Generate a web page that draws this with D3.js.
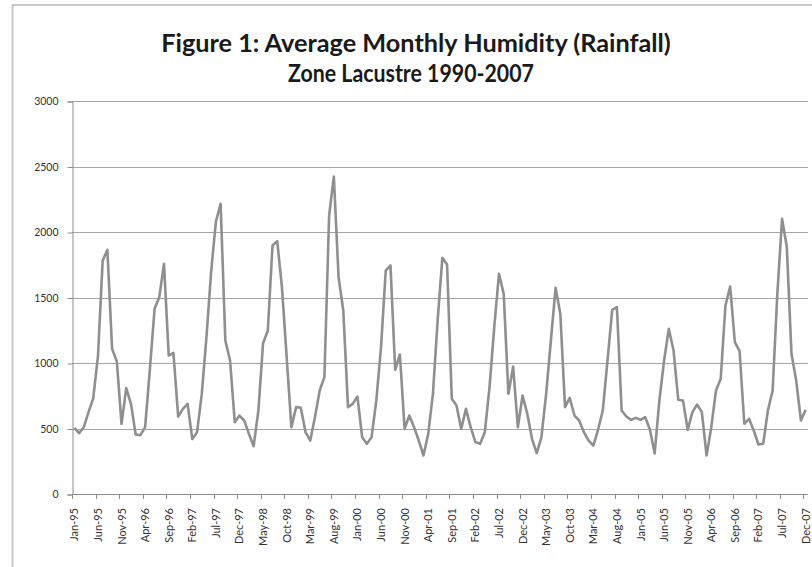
<!DOCTYPE html>
<html>
<head>
<meta charset="utf-8">
<script src="https://cdn.jsdelivr.net/npm/d3@7"></script>
<style>
  html, body { margin: 0; padding: 0; background: #fff; }
  svg { display: block; }
</style>
</head>
<body>
<svg id="chart" width="812" height="567"></svg>
<script>
const titleLines = ["Figure 1: Average Monthly Humidity (Rainfall)", "Zone Lacustre 1990-2007"];

const monthNames = ["Jan","Feb","Mar","Apr","May","Jun","Jul","Aug","Sep","Oct","Nov","Dec"];
const years = ["95","96","97","98","99","00","01","02","03","04","05","06","07"];
const categories = years.flatMap(y => monthNames.map(m => m + "-" + y));

const tickLabels = ["Jan-95","Jun-95","Nov-95","Apr-96","Sep-96","Feb-97","Jul-97","Dec-97",
  "May-98","Oct-98","Mar-99","Aug-99","Jan-00","Jun-00","Nov-00","Apr-01","Sep-01","Feb-02",
  "Jul-02","Dec-02","May-03","Oct-03","Mar-04","Aug-04","Jan-05","Jun-05","Nov-05","Apr-06",
  "Sep-06","Feb-07","Jul-07","Dec-07"];

const yTicks = [0, 500, 1000, 1500, 2000, 2500, 3000];

const rainfall = [
  505, 465, 510, 625, 730, 1050, 1783, 1864, 1108, 1012, 536, 808,
  688, 454, 449, 510, 950, 1414, 1503, 1757, 1057, 1078, 592, 650,
  688, 419, 472, 760, 1200, 1700, 2080, 2215, 1172, 1019, 548, 599,
  561, 459, 365, 637, 1151, 1248, 1897, 1930, 1579, 1045, 510, 663,
  658, 472, 408, 587, 790, 892, 2126, 2424, 1655, 1401, 663, 688,
  744, 434, 383, 434, 714, 1121, 1706, 1745, 948, 1065, 497, 599,
  510, 408, 294, 459, 765, 1325, 1803, 1752, 727, 676, 497, 650,
  510, 396, 383, 472, 816, 1274, 1681, 1528, 765, 973, 510, 752,
  612, 421, 312, 434, 765, 1172, 1574, 1376, 663, 734, 599, 561,
  472, 408, 370, 490, 637, 1019, 1406, 1426, 637, 592, 566, 581,
  566, 587, 490, 310, 714, 1019, 1261, 1096, 719, 714, 490, 625,
  683, 625, 294, 510, 790, 879, 1439, 1584, 1159, 1090, 536, 574,
  485, 378, 383, 637, 790, 1528, 2101, 1890, 1070, 866, 561, 643
];

const svg = d3.select("#chart");
const W = 812, H = 567;
const plot = { left: 72, right: 808, top: 101, bottom: 494 };
const font = "Lato, 'Open Sans', sans-serif";

// chart frame (partially visible)
svg.append("line").attr("x1", 12.5).attr("x2", 12.5).attr("y1", 4).attr("y2", H)
  .attr("stroke", "#c8c8c8").attr("stroke-width", 2);
svg.append("line").attr("x1", 12).attr("x2", W).attr("y1", 5).attr("y2", 5)
  .attr("stroke", "#c8c8c8").attr("stroke-width", 2);

const x = d3.scaleBand().domain(d3.range(categories.length)).range([plot.left, plot.right]);
const y = d3.scaleLinear().domain([0, 3000]).range([plot.bottom, plot.top]);

// gridlines
svg.append("g").selectAll("line").data(yTicks.filter(d => d > 0)).join("line")
  .attr("x1", plot.left).attr("x2", plot.right)
  .attr("y1", d => Math.round(y(d)) + 0.5).attr("y2", d => Math.round(y(d)) + 0.5)
  .attr("stroke", "#a6a6a6").attr("stroke-width", 1);

// y axis
const yAxis = d3.axisLeft(y).tickValues(yTicks).tickFormat(d3.format("d")).tickSize(5).tickPadding(9);
const gy = svg.append("g").attr("transform", `translate(${plot.left + 0.5},0.5)`).call(yAxis);
gy.select(".domain").attr("stroke", "#8c8c8c");
gy.selectAll(".tick line").attr("stroke", "#8c8c8c");
gy.selectAll(".tick text").attr("font-family", font).attr("font-size", 10.5).attr("fill", "#333");

// x axis
const gx = svg.append("g");
gx.append("line").attr("x1", plot.left).attr("x2", plot.right)
  .attr("y1", plot.bottom + 0.5).attr("y2", plot.bottom + 0.5)
  .attr("stroke", "#8c8c8c");
const tickIdx = tickLabels.map(l => categories.indexOf(l));
gx.selectAll("line.t").data(tickIdx).join("line").attr("class", "t")
  .attr("x1", d => Math.round(x(d)) + 0.5).attr("x2", d => Math.round(x(d)) + 0.5)
  .attr("y1", plot.bottom).attr("y2", plot.bottom + 5)
  .attr("stroke", "#8c8c8c");
gx.selectAll("text").data(tickIdx).join("text")
  .attr("transform", d => `translate(${x(d) + x.bandwidth() / 2 + 4},${plot.bottom + 14}) rotate(-90)`)
  .attr("text-anchor", "end")
  .attr("font-family", font).attr("font-size", 11).attr("fill", "#333")
  .text(d => categories[d]);

// line
const line = d3.line()
  .x((d, i) => x(i) + x.bandwidth() / 2)
  .y(d => y(d));
svg.append("path").datum(rainfall)
  .attr("d", line)
  .attr("fill", "none")
  .attr("stroke", "#8f8f8f")
  .attr("stroke-width", 2.6)
  .attr("stroke-linejoin", "round");

// title
const t = svg.append("g");
const titleX = [416, 411], titleY = [52, 82], titleW = [510, 246];
const els = titleLines.map((s, k) => t.append("text")
    .attr("x", titleX[k]).attr("y", titleY[k])
    .attr("text-anchor", "middle")
    .attr("font-family", font).attr("font-weight", 700).attr("font-size", 21)
    .attr("fill", "#1a1a1a")
    .text(s));
const w0 = els[0].node().getComputedTextLength();
const fs = 21 * titleW[0] / w0;
els.forEach(el => el.attr("font-size", fs));
els[1].attr("textLength", titleW[1]).attr("lengthAdjust", "spacingAndGlyphs");
</script>
</body>
</html>
